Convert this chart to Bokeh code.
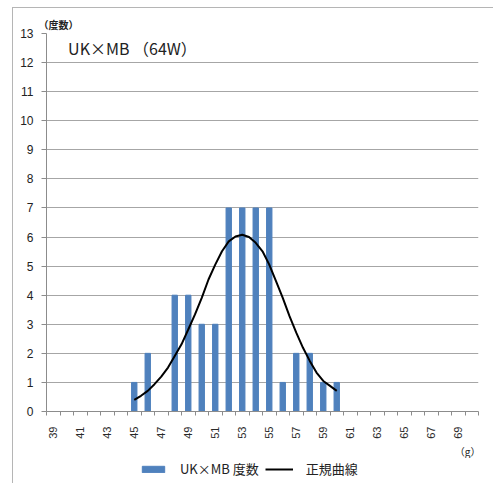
import math
from bokeh.plotting import figure
from bokeh.layouts import column
from bokeh.models import FixedTicker, Label, Legend, LegendItem, Range1d, Title
from bokeh.embed import file_html
from bokeh.resources import INLINE

# categories (g)
weights = list(range(39, 71))
# frequencies (度数)
counts = [0, 0, 0, 0, 0, 0, 1, 2, 0, 4, 4, 3, 3, 7, 7, 7, 7, 1, 2, 2, 1, 1,
          0, 0, 0, 0, 0, 0, 0, 0, 0, 0]
# normal curve (正規曲線)
curve_x = [45, 45.5, 46, 46.5, 47, 47.5, 48, 48.5, 49, 49.5, 50, 50.5, 51, 51.5,
           52, 52.5, 53, 53.5, 54, 54.5, 55, 55.5, 56, 56.5, 57, 57.5, 58, 58.5,
           59, 59.5, 60]
curve_y = [0.40, 0.54, 0.71, 0.94, 1.20, 1.51, 1.91, 2.31, 2.82, 3.34, 3.91, 4.54,
           5.05, 5.51, 5.85, 6.02, 6.08, 6.00, 5.80, 5.51, 5.05, 4.48, 3.91, 3.28,
           2.71, 2.19, 1.74, 1.34, 1.05, 0.88, 0.71]
x_tick_labels = list(range(39, 70, 2))
y_ticks = list(range(0, 14))

FONT = "Liberation Sans"
CJK = "Noto Sans CJK JP"
TXT = "#2a2a2a"
GRID = "#a6a6a6"
BAR = "#4f81bd"

p = figure(width=480, height=450, output_backend="svg", toolbar_location=None,
           x_range=Range1d(38.5, 70.5), y_range=Range1d(0, 13),
           min_border_left=33, min_border_right=15, min_border_top=25,
           min_border_bottom=47)
p.outline_line_color = None
p.background_fill_color = "white"

bars = p.vbar(x=weights, top=counts, width=0.4, color=BAR)
line = p.line(x=curve_x, y=curve_y, line_color="black", line_width=2)

# x axis
xa = p.xaxis[0]
xa.ticker = FixedTicker(ticks=x_tick_labels,
                        minor_ticks=[w - 0.5 for w in weights] + [70.5])
xa.major_label_orientation = math.pi / 2
xa.major_tick_out = 0
xa.major_tick_in = 0
xa.minor_tick_out = 4
xa.minor_tick_in = 0
xa.minor_tick_line_color = "#8c8c8c"
xa.axis_line_color = "#8c8c8c"
xa.major_label_text_font = FONT
xa.major_label_text_font_size = "11px"
xa.major_label_text_color = TXT
xa.major_label_standoff = 11

# y axis
ya = p.yaxis[0]
ya.ticker = FixedTicker(ticks=y_ticks)
ya.major_tick_out = 5
ya.major_tick_in = 0
ya.minor_tick_out = 0
ya.minor_tick_in = 0
ya.major_tick_line_color = "#8c8c8c"
ya.axis_line_color = "#8c8c8c"
ya.major_label_text_font = FONT
ya.major_label_text_font_size = "12px"
ya.major_label_text_color = "#222222"
ya.major_label_standoff = 8

p.xgrid.grid_line_color = None
p.ygrid.ticker = FixedTicker(ticks=y_ticks[1:])
p.ygrid.grid_line_color = GRID

p.add_layout(Label(x=40.1, y=12.5, text="UK×MB （64W）", text_font=CJK,
                   text_font_size="16px", text_color="#222222",
                   text_baseline="middle"))

p.add_layout(Title(text="（度数）", align="left", offset=-8, standoff=3,
                   text_font=CJK, text_font_size="10px", text_font_style="bold",
                   text_color="#222222"), "above")
p.add_layout(Title(text="（g）", align="right", offset=-2, standoff=0,
                   text_font=CJK, text_font_size="10px", text_font_style="normal",
                   text_color="#222222"), "below")

# legend strip (its sample glyphs sit outside the visible range)
q = figure(width=480, height=25, output_backend="svg", toolbar_location=None,
           x_range=Range1d(0, 480), y_range=Range1d(0, 25),
           x_axis_location=None, y_axis_location=None,
           min_border=0)
q.outline_line_color = None
q.xgrid.grid_line_color = None
q.ygrid.grid_line_color = None
lg_bar = q.vbar(x=[-50], top=[0], width=1, color=BAR)
lg_line = q.line(x=[-60, -50], y=[-10, -10], line_color="black", line_width=2)
legend = Legend(items=[LegendItem(label="UK×MB 度数", renderers=[lg_bar]),
                       LegendItem(label="正規曲線", renderers=[lg_line])],
                location=(93, 5), orientation="horizontal",
                glyph_width=28, glyph_height=8, label_standoff=13, spacing=6,
                padding=2, margin=0,
                label_text_font=CJK, label_text_font_size="13px",
                label_text_color="#222222",
                border_line_color=None, background_fill_alpha=0)
q.add_layout(legend, "center")

layout = column(p, q, spacing=0)
layout.margin = (7, 0, 0, 12)
layout.styles = {"border-top": "1px solid #b5b5b5", "border-left": "1px solid #b5b5b5"}

open("out.html", "w").write(file_html(layout, INLINE))
